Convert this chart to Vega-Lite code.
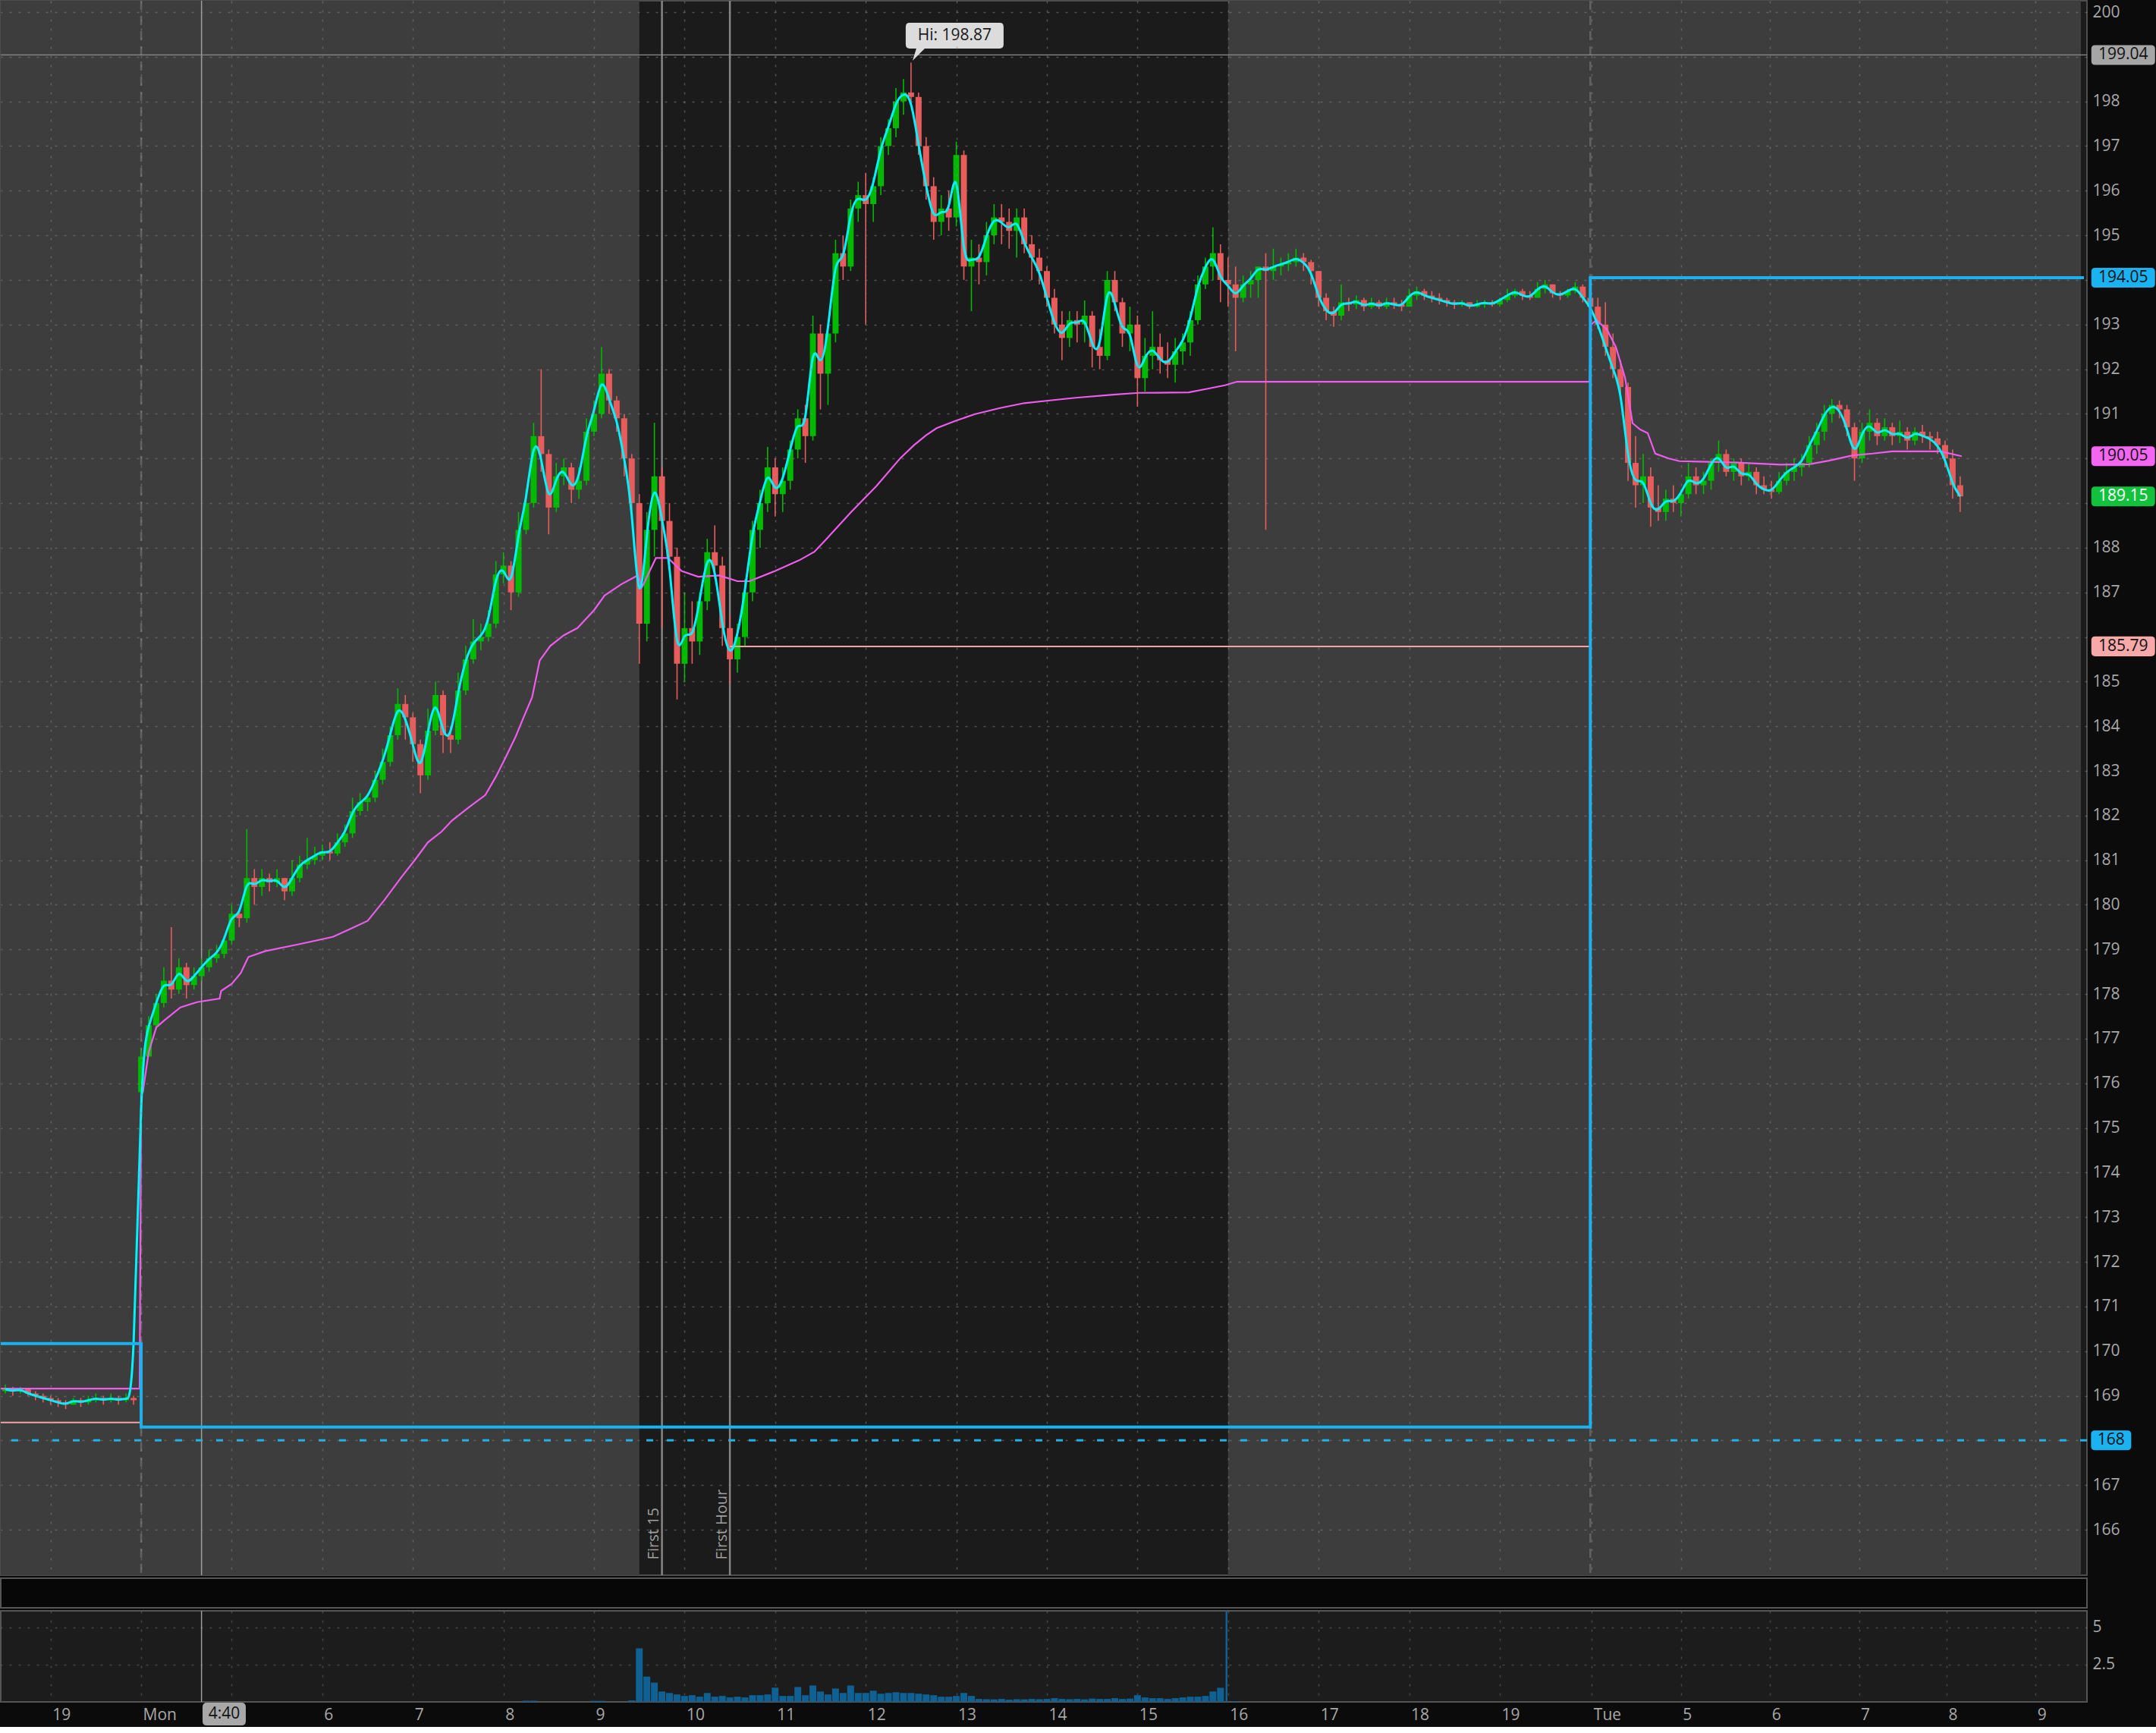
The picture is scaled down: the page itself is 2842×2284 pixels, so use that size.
{
"$schema":"https://vega.github.io/schema/vega-lite/v6.json",
"background":"#0b0b0b",
"padding":0,
"spacing":4,
"bounds":"flush",
"config":{"axis":{"labelFont":"Open Sans"},"text":{"font":"Open Sans"},"scale":{"continuousPadding":0}},
"datasets":{
"candles":[
{"m":-90,"o":169.1,"h":169.25,"l":169.05,"c":169.15},{"m":-85,"o":169.15,"h":169.2,"l":169.0,"c":169.1},{"m":-80,"o":169.1,"h":169.2,"l":169.05,"c":169.15},{"m":-75,"o":169.15,"h":169.15,"l":169.0,"c":169.05},{"m":-70,"o":169.05,"h":169.1,"l":168.9,"c":169.0},{"m":-65,"o":169.0,"h":169.05,"l":168.85,"c":168.95},{"m":-60,"o":168.95,"h":169.0,"l":168.8,"c":168.9},{"m":-55,"o":168.9,"h":168.95,"l":168.75,"c":168.85},{"m":-50,"o":168.85,"h":168.9,"l":168.7,"c":168.8},{"m":-45,"o":168.8,"h":168.95,"l":168.8,"c":168.9},{"m":-40,"o":168.9,"h":168.95,"l":168.75,"c":168.85},{"m":-35,"o":168.85,"h":169.0,"l":168.8,"c":168.9},{"m":-30,"o":168.9,"h":169.05,"l":168.85,"c":168.95},{"m":-25,"o":168.95,"h":169.0,"l":168.8,"c":168.9},{"m":-20,"o":168.9,"h":169.05,"l":168.85,"c":168.95},{"m":-15,"o":168.95,"h":169.0,"l":168.8,"c":168.9},{"m":-10,"o":168.9,"h":169.05,"l":168.85,"c":168.95},{"m":-5,"o":168.95,"h":169.0,"l":168.8,"c":168.9},
{"m":0,"o":175.8,"h":176.8,"l":175.7,"c":176.6},{"m":5,"o":176.6,"h":177.5,"l":176.6,"c":177.3},{"m":10,"o":177.3,"h":178.0,"l":177.2,"c":177.8},{"m":15,"o":177.8,"h":178.6,"l":177.7,"c":178.3},{"m":20,"o":178.3,"h":179.5,"l":177.9,"c":178.1},{"m":25,"o":178.1,"h":178.8,"l":178.0,"c":178.6},{"m":30,"o":178.6,"h":178.7,"l":177.9,"c":178.2},{"m":35,"o":178.2,"h":178.6,"l":178.1,"c":178.4},{"m":40,"o":178.4,"h":178.8,"l":178.3,"c":178.6},{"m":45,"o":178.6,"h":179.0,"l":178.5,"c":178.8},{"m":50,"o":178.8,"h":179.1,"l":178.7,"c":178.9},{"m":55,"o":178.9,"h":179.3,"l":178.8,"c":179.2},{"m":60,"o":179.2,"h":180.0,"l":179.1,"c":179.8},{"m":65,"o":179.8,"h":179.9,"l":179.5,"c":179.7},{"m":70,"o":179.7,"h":181.7,"l":179.6,"c":180.6},{"m":75,"o":180.6,"h":180.8,"l":180.0,"c":180.4},{"m":80,"o":180.4,"h":180.8,"l":180.2,"c":180.6},{"m":85,"o":180.6,"h":180.7,"l":180.3,"c":180.5},{"m":90,"o":180.5,"h":180.8,"l":180.4,"c":180.6},{"m":95,"o":180.6,"h":180.6,"l":180.1,"c":180.3},{"m":100,"o":180.3,"h":181.0,"l":180.2,"c":180.6},{"m":105,"o":180.6,"h":181.1,"l":180.5,"c":180.9},{"m":110,"o":180.9,"h":181.5,"l":180.8,"c":181.0},{"m":115,"o":181.0,"h":181.3,"l":180.9,"c":181.1},{"m":120,"o":181.1,"h":181.35,"l":181.0,"c":181.2},{"m":125,"o":181.2,"h":181.4,"l":181.0,"c":181.15},{"m":130,"o":181.15,"h":181.6,"l":181.1,"c":181.4},{"m":135,"o":181.4,"h":181.8,"l":181.3,"c":181.6},{"m":140,"o":181.6,"h":182.4,"l":181.5,"c":182.1},{"m":145,"o":182.1,"h":182.5,"l":182.0,"c":182.3},{"m":150,"o":182.3,"h":182.5,"l":182.1,"c":182.4},{"m":155,"o":182.4,"h":183.0,"l":182.3,"c":182.8},{"m":160,"o":182.8,"h":183.5,"l":182.7,"c":183.2},{"m":165,"o":183.2,"h":184.0,"l":183.1,"c":183.8},{"m":170,"o":183.8,"h":184.85,"l":183.7,"c":184.5},{"m":175,"o":184.5,"h":184.7,"l":183.7,"c":184.2},{"m":180,"o":184.2,"h":184.3,"l":183.2,"c":183.6},{"m":185,"o":183.6,"h":183.7,"l":182.5,"c":182.9},{"m":190,"o":182.9,"h":184.4,"l":182.8,"c":183.9},{"m":195,"o":183.9,"h":185.0,"l":183.8,"c":184.7},{"m":200,"o":184.7,"h":184.8,"l":183.4,"c":183.8},{"m":205,"o":183.8,"h":184.0,"l":183.4,"c":183.7},{"m":210,"o":183.7,"h":185.2,"l":183.6,"c":184.8},{"m":215,"o":184.8,"h":185.8,"l":184.7,"c":185.5},{"m":220,"o":185.5,"h":186.4,"l":185.4,"c":185.9},{"m":225,"o":185.9,"h":186.3,"l":185.7,"c":186.0},{"m":230,"o":186.0,"h":186.6,"l":185.9,"c":186.3},{"m":235,"o":186.3,"h":187.7,"l":186.2,"c":187.4},{"m":240,"o":187.4,"h":187.9,"l":187.2,"c":187.6},{"m":245,"o":187.6,"h":187.7,"l":186.6,"c":187.0},{"m":250,"o":187.0,"h":188.8,"l":186.9,"c":188.4},{"m":255,"o":188.4,"h":189.3,"l":188.3,"c":189.0},{"m":260,"o":189.0,"h":190.8,"l":188.9,"c":190.5},{"m":265,"o":190.5,"h":192.0,"l":189.7,"c":190.1},{"m":270,"o":190.1,"h":190.2,"l":188.3,"c":188.9},{"m":275,"o":188.9,"h":189.9,"l":188.8,"c":189.6},{"m":280,"o":189.6,"h":190.0,"l":189.4,"c":189.8},{"m":285,"o":189.8,"h":189.9,"l":189.0,"c":189.3},{"m":290,"o":189.3,"h":189.8,"l":189.1,"c":189.5},{"m":295,"o":189.5,"h":190.9,"l":189.4,"c":190.6},{"m":300,"o":190.6,"h":191.3,"l":190.5,"c":191.0},{"m":305,"o":191.0,"h":192.5,"l":190.9,"c":191.9},{"m":310,"o":191.9,"h":192.0,"l":191.0,"c":191.3},{"m":315,"o":191.3,"h":191.4,"l":190.6,"c":190.9},{"m":320,"o":190.9,"h":191.0,"l":189.6,"c":190.0},{"m":325,"o":190.0,"h":190.1,"l":188.6,"c":189.0},
{"m":330,"o":189.0,"h":189.2,"l":185.4,"c":186.3},{"m":335,"o":186.3,"h":188.8,"l":185.9,"c":188.4},{"m":340,"o":188.4,"h":190.8,"l":187.8,"c":189.6},{"m":345,"o":189.6,"h":189.8,"l":186.2,"c":188.6},{"m":350,"o":188.6,"h":189.0,"l":187.5,"c":187.8},{"m":355,"o":187.8,"h":188.0,"l":184.6,"c":185.4},{"m":360,"o":185.4,"h":187.0,"l":185.0,"c":186.2},{"m":365,"o":186.2,"h":186.8,"l":185.4,"c":185.9},{"m":370,"o":185.9,"h":187.0,"l":185.6,"c":186.8},{"m":375,"o":186.8,"h":188.2,"l":186.6,"c":187.9},{"m":380,"o":187.9,"h":188.5,"l":187.3,"c":187.6},{"m":385,"o":187.6,"h":187.8,"l":185.8,"c":186.2},{"m":390,"o":186.2,"h":186.5,"l":184.93,"c":185.5},{"m":395,"o":185.5,"h":186.3,"l":185.2,"c":186.0},{"m":400,"o":186.0,"h":187.3,"l":185.8,"c":187.0},{"m":405,"o":187.0,"h":188.6,"l":186.8,"c":188.4},{"m":410,"o":188.4,"h":189.3,"l":188.0,"c":189.0},{"m":415,"o":189.0,"h":190.26,"l":188.8,"c":189.8},{"m":420,"o":189.8,"h":190.0,"l":188.7,"c":189.2},{"m":425,"o":189.2,"h":189.8,"l":188.8,"c":189.5},{"m":430,"o":189.5,"h":190.4,"l":189.3,"c":190.2},{"m":435,"o":190.2,"h":191.1,"l":190.0,"c":190.9},{"m":440,"o":190.9,"h":191.2,"l":189.9,"c":190.5},{"m":445,"o":190.5,"h":193.2,"l":190.4,"c":192.8},{"m":450,"o":192.8,"h":193.0,"l":191.1,"c":191.9},{"m":455,"o":191.9,"h":193.0,"l":191.2,"c":192.8},{"m":460,"o":192.8,"h":194.9,"l":192.6,"c":194.6},{"m":465,"o":194.6,"h":195.0,"l":194.0,"c":194.3},{"m":470,"o":194.3,"h":195.8,"l":194.2,"c":195.6},{"m":475,"o":195.6,"h":196.2,"l":195.3,"c":195.9},{"m":480,"o":195.9,"h":196.4,"l":193.0,"c":195.7},{"m":485,"o":195.7,"h":196.3,"l":195.3,"c":196.1},{"m":490,"o":196.1,"h":197.2,"l":195.9,"c":197.0},{"m":495,"o":197.0,"h":197.6,"l":196.8,"c":197.4},{"m":500,"o":197.4,"h":198.3,"l":197.2,"c":198.0},{"m":505,"o":198.0,"h":198.5,"l":197.7,"c":198.2},{"m":510,"o":198.2,"h":198.87,"l":197.9,"c":198.1},{"m":515,"o":198.1,"h":198.2,"l":196.8,"c":197.0},{"m":520,"o":197.0,"h":197.2,"l":195.8,"c":196.1},{"m":525,"o":196.1,"h":196.3,"l":194.9,"c":195.3},{"m":530,"o":195.3,"h":195.9,"l":195.0,"c":195.6},{"m":535,"o":195.6,"h":196.0,"l":195.1,"c":195.4},{"m":540,"o":195.4,"h":197.1,"l":195.2,"c":196.8},{"m":545,"o":196.8,"h":196.9,"l":194.0,"c":194.3},{"m":550,"o":194.3,"h":194.9,"l":193.3,"c":194.5},{"m":555,"o":194.5,"h":194.8,"l":193.9,"c":194.4},{"m":560,"o":194.4,"h":195.3,"l":194.1,"c":195.0},{"m":565,"o":195.0,"h":195.7,"l":194.8,"c":195.4},{"m":570,"o":195.4,"h":195.7,"l":194.8,"c":195.3},{"m":575,"o":195.3,"h":195.6,"l":194.7,"c":195.1},{"m":580,"o":195.1,"h":195.6,"l":194.5,"c":195.4},{"m":585,"o":195.4,"h":195.6,"l":194.6,"c":194.8},{"m":590,"o":194.8,"h":195.0,"l":194.0,"c":194.5},{"m":595,"o":194.5,"h":194.7,"l":193.9,"c":194.2},{"m":600,"o":194.2,"h":194.3,"l":193.4,"c":193.6},{"m":605,"o":193.6,"h":193.8,"l":192.8,"c":193.0},{"m":610,"o":193.0,"h":193.3,"l":192.2,"c":192.7},{"m":615,"o":192.7,"h":193.3,"l":192.5,"c":193.1},{"m":620,"o":193.1,"h":193.3,"l":192.6,"c":193.0},{"m":625,"o":193.0,"h":193.54,"l":192.6,"c":193.2},{"m":630,"o":193.2,"h":193.3,"l":192.04,"c":192.5},{"m":635,"o":192.5,"h":192.9,"l":192.0,"c":192.3},{"m":640,"o":192.3,"h":194.2,"l":192.2,"c":194.0},{"m":645,"o":194.0,"h":194.2,"l":193.3,"c":193.5},{"m":650,"o":193.5,"h":193.6,"l":192.5,"c":192.8},{"m":655,"o":192.8,"h":193.4,"l":192.4,"c":193.0},{"m":660,"o":193.0,"h":193.2,"l":191.16,"c":191.8},{"m":665,"o":191.8,"h":192.7,"l":191.5,"c":192.3},{"m":670,"o":192.3,"h":193.3,"l":192.0,"c":192.5},{"m":675,"o":192.5,"h":192.8,"l":191.9,"c":192.2},{"m":680,"o":192.2,"h":192.6,"l":191.8,"c":192.1},{"m":685,"o":192.1,"h":192.7,"l":191.7,"c":192.4},{"m":690,"o":192.4,"h":192.8,"l":192.1,"c":192.6},{"m":695,"o":192.6,"h":193.3,"l":192.3,"c":193.1},{"m":700,"o":193.1,"h":194.1,"l":193.0,"c":193.9},{"m":705,"o":193.9,"h":194.5,"l":193.8,"c":194.3},{"m":710,"o":194.3,"h":195.18,"l":194.0,"c":194.6},{"m":715,"o":194.6,"h":194.8,"l":193.5,"c":194.0},
{"m":720,"o":194.0,"h":194.5,"l":193.4,"c":193.9},{"m":725,"o":193.9,"h":194.3,"l":192.4,"c":193.6},{"m":730,"o":193.6,"h":194.1,"l":193.5,"c":193.9},{"m":735,"o":193.9,"h":194.2,"l":193.6,"c":194.0},{"m":740,"o":194.0,"h":194.3,"l":193.6,"c":194.3},{"m":745,"o":194.3,"h":194.6,"l":188.4,"c":194.2},{"m":750,"o":194.2,"h":194.7,"l":194.0,"c":194.3},{"m":755,"o":194.3,"h":194.5,"l":194.1,"c":194.35},{"m":760,"o":194.35,"h":194.6,"l":194.2,"c":194.4},{"m":765,"o":194.4,"h":194.7,"l":194.3,"c":194.5},{"m":770,"o":194.5,"h":194.6,"l":194.2,"c":194.4},{"m":775,"o":194.4,"h":194.45,"l":193.9,"c":194.2},{"m":780,"o":194.2,"h":194.2,"l":193.4,"c":193.6},{"m":785,"o":193.6,"h":193.7,"l":193.1,"c":193.3},{"m":790,"o":193.3,"h":193.4,"l":192.95,"c":193.2},{"m":795,"o":193.2,"h":193.9,"l":193.1,"c":193.5},{"m":800,"o":193.5,"h":193.6,"l":193.3,"c":193.45},{"m":805,"o":193.45,"h":193.65,"l":193.35,"c":193.55},{"m":810,"o":193.55,"h":193.6,"l":193.3,"c":193.4},{"m":815,"o":193.4,"h":193.6,"l":193.35,"c":193.5},{"m":820,"o":193.5,"h":193.55,"l":193.35,"c":193.4},{"m":825,"o":193.4,"h":193.6,"l":193.35,"c":193.5},{"m":830,"o":193.5,"h":193.6,"l":193.35,"c":193.45},{"m":835,"o":193.45,"h":193.55,"l":193.3,"c":193.4},{"m":840,"o":193.4,"h":193.8,"l":193.4,"c":193.65},{"m":845,"o":193.65,"h":193.85,"l":193.55,"c":193.75},{"m":850,"o":193.75,"h":193.8,"l":193.55,"c":193.65},{"m":855,"o":193.65,"h":193.75,"l":193.5,"c":193.6},{"m":860,"o":193.6,"h":193.7,"l":193.45,"c":193.55},{"m":865,"o":193.55,"h":193.6,"l":193.4,"c":193.5},{"m":870,"o":193.5,"h":193.55,"l":193.35,"c":193.45},{"m":875,"o":193.45,"h":193.55,"l":193.4,"c":193.5},{"m":880,"o":193.5,"h":193.5,"l":193.35,"c":193.4},{"m":885,"o":193.4,"h":193.55,"l":193.38,"c":193.45},{"m":890,"o":193.45,"h":193.55,"l":193.38,"c":193.5},{"m":895,"o":193.5,"h":193.55,"l":193.4,"c":193.45},{"m":900,"o":193.45,"h":193.6,"l":193.4,"c":193.55},{"m":905,"o":193.55,"h":193.8,"l":193.5,"c":193.65},{"m":910,"o":193.65,"h":193.8,"l":193.6,"c":193.75},{"m":915,"o":193.75,"h":193.8,"l":193.55,"c":193.65},{"m":920,"o":193.65,"h":193.75,"l":193.55,"c":193.6},{"m":925,"o":193.6,"h":193.95,"l":193.6,"c":193.8},{"m":930,"o":193.8,"h":194.0,"l":193.7,"c":193.9},{"m":935,"o":193.9,"h":193.9,"l":193.6,"c":193.7},{"m":940,"o":193.7,"h":193.75,"l":193.55,"c":193.65},{"m":945,"o":193.65,"h":193.8,"l":193.6,"c":193.75},{"m":950,"o":193.75,"h":193.95,"l":193.7,"c":193.85},{"m":955,"o":193.85,"h":193.9,"l":193.5,"c":193.6},
{"m":960,"o":193.6,"h":194.0,"l":193.3,"c":193.4},{"m":965,"o":193.4,"h":193.6,"l":192.9,"c":193.0},{"m":970,"o":193.0,"h":193.5,"l":192.3,"c":192.5},{"m":975,"o":192.5,"h":192.8,"l":191.8,"c":192.0},{"m":980,"o":192.0,"h":192.2,"l":191.4,"c":191.6},{"m":985,"o":191.6,"h":191.7,"l":189.5,"c":189.9},{"m":990,"o":189.9,"h":190.5,"l":188.9,"c":189.4},{"m":995,"o":189.4,"h":190.1,"l":189.0,"c":189.6},{"m":1000,"o":189.6,"h":189.8,"l":188.47,"c":188.9},{"m":1005,"o":188.9,"h":189.4,"l":188.6,"c":188.8},{"m":1010,"o":188.8,"h":189.3,"l":188.6,"c":189.1},{"m":1015,"o":189.1,"h":189.4,"l":188.8,"c":189.0},{"m":1020,"o":189.0,"h":189.3,"l":188.7,"c":189.2},{"m":1025,"o":189.2,"h":189.9,"l":189.1,"c":189.6},{"m":1030,"o":189.6,"h":189.8,"l":189.2,"c":189.4},{"m":1035,"o":189.4,"h":189.7,"l":189.2,"c":189.5},{"m":1040,"o":189.5,"h":190.0,"l":189.3,"c":189.9},{"m":1045,"o":189.9,"h":190.4,"l":189.7,"c":190.1},{"m":1050,"o":190.1,"h":190.2,"l":189.6,"c":189.7},{"m":1055,"o":189.7,"h":190.0,"l":189.5,"c":189.9},{"m":1060,"o":189.9,"h":190.0,"l":189.4,"c":189.6},{"m":1065,"o":189.6,"h":189.9,"l":189.5,"c":189.7},{"m":1070,"o":189.7,"h":189.8,"l":189.2,"c":189.4},{"m":1075,"o":189.4,"h":189.6,"l":189.2,"c":189.3},{"m":1080,"o":189.3,"h":189.5,"l":189.1,"c":189.25},{"m":1085,"o":189.25,"h":189.7,"l":189.2,"c":189.5},{"m":1090,"o":189.5,"h":189.9,"l":189.4,"c":189.7},{"m":1095,"o":189.7,"h":190.0,"l":189.5,"c":189.8},{"m":1100,"o":189.8,"h":190.1,"l":189.6,"c":189.9},{"m":1105,"o":189.9,"h":190.5,"l":189.8,"c":190.3},{"m":1110,"o":190.3,"h":190.8,"l":190.1,"c":190.6},{"m":1115,"o":190.6,"h":191.2,"l":190.4,"c":191.0},{"m":1120,"o":191.0,"h":191.33,"l":190.8,"c":191.2},{"m":1125,"o":191.2,"h":191.3,"l":190.9,"c":191.1},{"m":1130,"o":191.1,"h":191.2,"l":190.5,"c":190.7},{"m":1135,"o":190.7,"h":190.8,"l":189.5,"c":190.0},{"m":1140,"o":190.0,"h":190.8,"l":189.9,"c":190.6},{"m":1145,"o":190.6,"h":191.1,"l":190.4,"c":190.8},{"m":1150,"o":190.8,"h":190.9,"l":190.3,"c":190.5},{"m":1155,"o":190.5,"h":190.9,"l":190.4,"c":190.7},{"m":1160,"o":190.7,"h":190.8,"l":190.3,"c":190.5},{"m":1165,"o":190.5,"h":190.85,"l":190.35,"c":190.6},{"m":1170,"o":190.6,"h":190.7,"l":190.2,"c":190.4},{"m":1175,"o":190.4,"h":190.7,"l":190.3,"c":190.6},{"m":1180,"o":190.6,"h":190.75,"l":190.35,"c":190.5},{"m":1185,"o":190.5,"h":190.6,"l":190.2,"c":190.45},{"m":1190,"o":190.45,"h":190.6,"l":190.1,"c":190.3},{"m":1195,"o":190.3,"h":190.4,"l":189.8,"c":190.0},{"m":1200,"o":190.0,"h":190.2,"l":189.1,"c":189.4},{"m":1205,"o":189.4,"h":189.6,"l":188.8,"c":189.15}
],
"vwap":[
{"m":-93,"p":169.16},{"m":-1,"p":169.16},{"m":0,"p":175.7},{"m":1.4,"p":175.87},{"m":5,"p":176.7},{"m":10,"p":177.25},{"m":15,"p":177.4},{"m":26,"p":177.7},{"m":37,"p":177.82},{"m":52,"p":177.9},{"m":53,"p":178.07},{"m":60,"p":178.23},{"m":66,"p":178.47},{"m":71,"p":178.83},{"m":82,"p":178.96},{"m":105,"p":179.12},{"m":127,"p":179.28},{"m":138,"p":179.45},{"m":150,"p":179.64},{"m":161,"p":180.1},{"m":172,"p":180.6},{"m":181,"p":180.99},{"m":190,"p":181.4},{"m":199,"p":181.64},{"m":206,"p":181.89},{"m":217,"p":182.18},{"m":228,"p":182.46},{"m":235,"p":182.87},{"m":241,"p":183.27},{"m":248,"p":183.76},{"m":253,"p":184.17},{"m":259,"p":184.65},{"m":264,"p":185.47},{"m":271,"p":185.8},{"m":280,"p":186.04},{"m":289,"p":186.2},{"m":300,"p":186.6},{"m":307,"p":186.93},{"m":318,"p":187.18},{"m":329,"p":187.38},{"m":332,"p":187.13},{"m":341,"p":187.77},{"m":349,"p":187.77},{"m":358,"p":187.48},{"m":369,"p":187.35},{"m":383,"p":187.38},{"m":395,"p":187.25},{"m":403,"p":187.25},{"m":420,"p":187.48},{"m":436,"p":187.72},{"m":446,"p":187.91},{"m":453,"p":188.16},{"m":470,"p":188.79},{"m":487,"p":189.38},{"m":503,"p":190.01},{"m":512,"p":190.3},{"m":520,"p":190.52},{"m":527,"p":190.68},{"m":540,"p":190.85},{"m":552,"p":190.99},{"m":569,"p":191.13},{"m":585,"p":191.24},{"m":602,"p":191.3},{"m":619,"p":191.36},{"m":644,"p":191.43},{"m":661,"p":191.47},{"m":694,"p":191.48},{"m":706,"p":191.56},{"m":718,"p":191.64},{"m":726,"p":191.72},{"m":959.5,"p":191.72},{"m":960.5,"p":193.0},{"m":964,"p":193.1},{"m":971,"p":192.89},{"m":977,"p":192.49},{"m":983,"p":191.81},{"m":988,"p":190.79},{"m":993,"p":190.65},{"m":998,"p":190.57},{"m":1003,"p":190.11},{"m":1012,"p":190.0},{"m":1019,"p":189.94},{"m":1032,"p":189.93},{"m":1057,"p":189.91},{"m":1086,"p":189.86},{"m":1105,"p":189.87},{"m":1118,"p":189.95},{"m":1134,"p":190.07},{"m":1147,"p":190.11},{"m":1160,"p":190.16},{"m":1192,"p":190.16},{"m":1206,"p":190.05}
],
"vol":[
{"m":255,"v":0.08},{"m":260,"v":0.08},{"m":300,"v":0.07},{"m":305,"v":0.07},{"m":325,"v":0.1},
{"m":330,"v":3.6},{"m":335,"v":1.7},{"m":340,"v":1.3},{"m":345,"v":0.7},{"m":350,"v":0.6},{"m":355,"v":0.5},{"m":360,"v":0.4},{"m":365,"v":0.45},{"m":370,"v":0.35},{"m":375,"v":0.6},{"m":380,"v":0.35},{"m":385,"v":0.4},{"m":390,"v":0.3},{"m":395,"v":0.35},{"m":400,"v":0.3},{"m":405,"v":0.45},{"m":410,"v":0.45},{"m":415,"v":0.5},{"m":420,"v":0.95},{"m":425,"v":0.4},{"m":430,"v":0.4},{"m":435,"v":1.0},{"m":440,"v":0.45},{"m":445,"v":1.1},{"m":450,"v":0.7},{"m":455,"v":0.5},{"m":460,"v":0.9},{"m":465,"v":0.6},{"m":470,"v":1.1},{"m":475,"v":0.6},{"m":480,"v":0.6},{"m":485,"v":0.75},{"m":490,"v":0.55},{"m":495,"v":0.6},{"m":500,"v":0.65},{"m":505,"v":0.6},{"m":510,"v":0.6},{"m":515,"v":0.55},{"m":520,"v":0.5},{"m":525,"v":0.45},{"m":530,"v":0.35},{"m":535,"v":0.35},{"m":540,"v":0.4},{"m":545,"v":0.6},{"m":550,"v":0.4},{"m":555,"v":0.2},{"m":560,"v":0.18},{"m":565,"v":0.17},{"m":570,"v":0.2},{"m":575,"v":0.15},{"m":580,"v":0.18},{"m":585,"v":0.17},{"m":590,"v":0.2},{"m":595,"v":0.18},{"m":600,"v":0.2},{"m":605,"v":0.25},{"m":610,"v":0.2},{"m":615,"v":0.18},{"m":620,"v":0.2},{"m":625,"v":0.17},{"m":630,"v":0.22},{"m":635,"v":0.2},{"m":640,"v":0.2},{"m":645,"v":0.25},{"m":650,"v":0.2},{"m":655,"v":0.22},{"m":660,"v":0.45},{"m":665,"v":0.3},{"m":670,"v":0.25},{"m":675,"v":0.25},{"m":680,"v":0.2},{"m":685,"v":0.25},{"m":690,"v":0.3},{"m":695,"v":0.35},{"m":700,"v":0.35},{"m":705,"v":0.4},{"m":710,"v":0.7},{"m":715,"v":0.95},{"m":725,"v":0.05}
],
"badges":[
{"p":199.04,"t":"199.04","k":"cross"},{"p":194.05,"t":"194.05","k":"blue"},{"p":190.05,"t":"190.05","k":"vwap"},{"p":189.15,"t":"189.15","k":"last"},{"p":185.79,"t":"185.79","k":"fhl"},{"p":168,"t":"168","k":"blue"}
]
},
"vconcat":[
{
"width":2750,"height":2075,
"view":{"fill":"#1b1b1b","stroke":"#4d4d4d","strokeWidth":2},
"layer":[
{"data":{"values":[{"m":-93,"m2":330},{"m":720,"m2":1285}]},
 "mark":{"type":"rect","color":"#3d3d3d","clip":true},
 "encoding":{"x":{"field":"m","type":"quantitative","scale":{"domain":[-93,1289],"nice":false,"zero":false,"padding":0},
   "axis":{"values":[-60,0,60,120,180,240,300,360,420,480,540,600,660,720,780,840,900,961,1020,1079,1138,1196,1255],"grid":true,"gridColor":"#8a8a8a","gridOpacity":0.5,"gridDash":[3,9],"gridWidth":1.5,"labels":false,"ticks":false,"domain":false,"title":null,"zindex":1}},
  "x2":{"field":"m2"}}},
{"data":{"values":[{"m":0},{"m":960}]},
 "mark":{"type":"rule","color":"#626262","strokeWidth":2.5,"strokeDash":[12,8],"clip":true},
 "encoding":{"x":{"field":"m","type":"quantitative","scale":{"domain":[-93,1289],"nice":false,"zero":false,"padding":0}}}},
{"data":{"values":[{"m":40}]},
 "mark":{"type":"rule","color":"#9c9c9c","strokeWidth":1.5,"clip":true},
 "encoding":{"x":{"field":"m","type":"quantitative","scale":{"domain":[-93,1289],"nice":false,"zero":false,"padding":0}}}},
{"data":{"values":[{"m":345},{"m":390}]},
 "mark":{"type":"rule","color":"#858585","strokeWidth":2.5,"clip":true},
 "encoding":{"x":{"field":"m","type":"quantitative","scale":{"domain":[-93,1289],"nice":false,"zero":false,"padding":0}}}},
{"data":{"values":[{"p":199.04}]},
 "mark":{"type":"rule","color":"#8c8c8c","strokeWidth":1.2,"clip":true},
 "encoding":{"y":{"field":"p","type":"quantitative","scale":{"domain":[164.98,200.255],"nice":false,"zero":false,"padding":0},
   "axis":{"orient":"right","values":[166,167,168,169,170,171,172,173,174,175,176,177,178,179,180,181,182,183,184,185,186,187,188,189,190,191,192,193,194,195,196,197,198,199,200],"format":"d","grid":true,"gridColor":"#8a8a8a","gridOpacity":0.5,"gridDash":[3,9],"gridWidth":1.5,"ticks":false,"domain":false,"labelColor":"#a8a8a8","labelFontSize":21,"labelAlign":"left","labelBaseline":"middle","labelPadding":7,"labelOverlap":false,"labelBound":false,"labelFlush":false,"labelExpr":"indexof([168,186,189,190,194,199], datum.value) >= 0 ? '' : format(datum.value, 'd')","title":null,"zindex":1}}}},
{"data":{"values":[{"p":168}]},
 "mark":{"type":"rule","color":"#1ab2f0","strokeWidth":3,"strokeDash":[9,18],"clip":true},
 "encoding":{"y":{"field":"p","type":"quantitative","scale":{"domain":[164.98,200.255],"nice":false,"zero":false,"padding":0}}}},
{"data":{"name":"candles"},
 "mark":{"type":"rule","strokeWidth":1.6,"clip":true},
 "encoding":{"x":{"field":"m","type":"quantitative","scale":{"domain":[-93,1289],"nice":false,"zero":false,"padding":0}},
  "y":{"field":"l","type":"quantitative","scale":{"domain":[164.98,200.255],"nice":false,"zero":false,"padding":0}},
  "y2":{"field":"h"},
  "color":{"condition":{"test":"datum.c >= datum.o","value":"#00ba00"},"value":"#e85c5c"}}},
{"data":{"name":"candles"},
 "mark":{"type":"bar","size":8,"clip":true},
 "encoding":{"x":{"field":"m","type":"quantitative","scale":{"domain":[-93,1289],"nice":false,"zero":false,"padding":0}},
  "y":{"field":"o","type":"quantitative","scale":{"domain":[164.98,200.255],"nice":false,"zero":false,"padding":0}},
  "y2":{"field":"c"},
  "color":{"condition":{"test":"datum.c >= datum.o","value":"#00ba00"},"value":"#e85c5c"}}},
{"data":{"name":"vwap"},
 "mark":{"type":"line","color":"#ee5cee","strokeWidth":2.2,"clip":true},
 "encoding":{"x":{"field":"m","type":"quantitative","scale":{"domain":[-93,1289],"nice":false,"zero":false,"padding":0}},
  "y":{"field":"p","type":"quantitative","scale":{"domain":[164.98,200.255],"nice":false,"zero":false,"padding":0}}}},
{"data":{"values":[{"m":-93,"p":168.4,"g":"fri"},{"m":0,"p":168.4,"g":"fri"},{"m":390,"p":185.79,"g":"fhl"},{"m":960,"p":185.79,"g":"fhl"}]},
 "mark":{"type":"line","color":"#f2a3a3","strokeWidth":2,"clip":true},
 "encoding":{"x":{"field":"m","type":"quantitative","scale":{"domain":[-93,1289],"nice":false,"zero":false,"padding":0}},
  "y":{"field":"p","type":"quantitative","scale":{"domain":[164.98,200.255],"nice":false,"zero":false,"padding":0}},
  "detail":{"field":"g"}}},
{"data":{"name":"candles"},
 "mark":{"type":"line","color":"#00f2ff","strokeWidth":3,"interpolate":"basis","clip":true},
 "encoding":{"x":{"field":"m","type":"quantitative","scale":{"domain":[-93,1289],"nice":false,"zero":false,"padding":0}},
  "y":{"field":"c","type":"quantitative","scale":{"domain":[164.98,200.255],"nice":false,"zero":false,"padding":0}}}},
{"data":{"values":[{"m":-93,"p":170.17},{"m":0,"p":168.3},{"m":960,"p":194.05},{"m":1287,"p":194.05}]},
 "mark":{"type":"line","color":"#1ab2f0","strokeWidth":4,"interpolate":"step-after","clip":true},
 "encoding":{"x":{"field":"m","type":"quantitative","scale":{"domain":[-93,1289],"nice":false,"zero":false,"padding":0}},
  "y":{"field":"p","type":"quantitative","scale":{"domain":[164.98,200.255],"nice":false,"zero":false,"padding":0}}}},
{"data":{"values":[{"m":342.7,"p":165.33,"t":"First 15"},{"m":388,"p":165.33,"t":"First Hour"}]},
 "mark":{"type":"text","angle":270,"align":"left","baseline":"alphabetic","fontSize":20,"color":"#a0a0a0"},
 "encoding":{"x":{"field":"m","type":"quantitative","scale":{"domain":[-93,1289],"nice":false,"zero":false,"padding":0}},
  "y":{"field":"p","type":"quantitative","scale":{"domain":[164.98,200.255],"nice":false,"zero":false,"padding":0}},
  "text":{"field":"t"}}},
{"data":{"values":[{"m":538.9,"p":199.473,"t":"Hi: 198.87"}]},
 "mark":{"type":"point","filled":true,"opacity":1,"color":"#dcdcdc","size":16641,"shape":"M-0.92,-0.264 L0.92,-0.264 Q1,-0.264 1,-0.18 L1,0.18 Q1,0.264 0.92,0.264 L-0.612,0.264 L-0.86,0.512 L-0.783,0.264 L-0.92,0.264 Q-1,0.264 -1,0.18 L-1,-0.18 Q-1,-0.264 -0.92,-0.264 Z"},
 "encoding":{"x":{"field":"m","type":"quantitative","scale":{"domain":[-93,1289],"nice":false,"zero":false,"padding":0}},
  "y":{"field":"p","type":"quantitative","scale":{"domain":[164.98,200.255],"nice":false,"zero":false,"padding":0}}}},
{"data":{"values":[{"m":538.9,"p":199.473,"t":"Hi: 198.87"}]},
 "mark":{"type":"text","fontSize":21,"color":"#1a1a1a","align":"center","baseline":"middle"},
 "encoding":{"x":{"field":"m","type":"quantitative","scale":{"domain":[-93,1289],"nice":false,"zero":false,"padding":0}},
  "y":{"field":"p","type":"quantitative","scale":{"domain":[164.98,200.255],"nice":false,"zero":false,"padding":0}},
  "text":{"field":"t"}}},
{"data":{"name":"badges"},
 "transform":[{"filter":"datum.t != '168'"}],
 "mark":{"type":"point","filled":true,"opacity":1,"size":7056,"shape":"M-0.88,-0.31 L0.88,-0.31 Q1,-0.31 1,-0.19 L1,0.19 Q1,0.31 0.88,0.31 L-0.88,0.31 Q-1,0.31 -1,0.19 L-1,-0.19 Q-1,-0.31 -0.88,-0.31 Z"},
 "encoding":{"x":{"datum":1313,"type":"quantitative","scale":{"domain":[-93,1289],"nice":false,"zero":false,"padding":0}},
  "y":{"field":"p","type":"quantitative","scale":{"domain":[164.98,200.255],"nice":false,"zero":false,"padding":0}},
  "color":{"field":"k","type":"nominal","scale":{"domain":["cross","blue","vwap","last","fhl"],"range":["#a6a6a6","#1ab2f0","#f266f2","#12c23c","#f7a8a8"]},"legend":null}}},
{"data":{"name":"badges"},
 "transform":[{"filter":"datum.t == '168'"}],
 "mark":{"type":"point","filled":true,"opacity":1,"size":2809,"shape":"M-0.8,-0.49 L0.8,-0.49 Q1,-0.49 1,-0.3 L1,0.3 Q1,0.49 0.8,0.49 L-0.8,0.49 Q-1,0.49 -1,0.3 L-1,-0.3 Q-1,-0.49 -0.8,-0.49 Z"},
 "encoding":{"x":{"datum":1305,"type":"quantitative","scale":{"domain":[-93,1289],"nice":false,"zero":false,"padding":0}},
  "y":{"field":"p","type":"quantitative","scale":{"domain":[164.98,200.255],"nice":false,"zero":false,"padding":0}},
  "color":{"field":"k","type":"nominal","scale":{"domain":["cross","blue","vwap","last","fhl"],"range":["#a6a6a6","#1ab2f0","#f266f2","#12c23c","#f7a8a8"]},"legend":null}}},
{"data":{"name":"badges"},
 "transform":[{"filter":"datum.t != '168'"}],
 "mark":{"type":"text","fontSize":21,"align":"center","baseline":"middle"},
 "encoding":{"x":{"datum":1313,"type":"quantitative","scale":{"domain":[-93,1289],"nice":false,"zero":false,"padding":0}},
  "y":{"field":"p","type":"quantitative","scale":{"domain":[164.98,200.255],"nice":false,"zero":false,"padding":0}},
  "text":{"field":"t"},
  "color":{"condition":{"test":"datum.k == 'last'","value":"#ffffff"},"value":"#111111"}}},
{"data":{"name":"badges"},
 "transform":[{"filter":"datum.t == '168'"}],
 "mark":{"type":"text","fontSize":21,"align":"center","baseline":"middle","color":"#111111"},
 "encoding":{"x":{"datum":1305,"type":"quantitative","scale":{"domain":[-93,1289],"nice":false,"zero":false,"padding":0}},
  "y":{"field":"p","type":"quantitative","scale":{"domain":[164.98,200.255],"nice":false,"zero":false,"padding":0}},
  "text":{"field":"t"}}}
]
},
{
"width":2750,"height":39,
"view":{"fill":"#070707","stroke":"#555555","strokeWidth":2},
"data":{"values":[{}]},
"mark":{"type":"text","text":""},
"encoding":{}
},
{
"width":2750,"height":120,
"view":{"fill":"#1c1c1c","stroke":"#555555","strokeWidth":2},
"layer":[
{"data":{"name":"vol"},
 "mark":{"type":"bar","color":"#0e6192","size":9,"clip":true},
 "encoding":{"x":{"field":"m","type":"quantitative","scale":{"domain":[-93,1289],"nice":false,"zero":false,"padding":0},
   "axis":{"orient":"bottom","values":[-60,0,60,120,180,240,300,360,420,480,540,600,660,720,780,840,900,961,1020,1079,1138,1196,1255],"grid":true,"gridColor":"#8a8a8a","gridOpacity":0.4,"gridDash":[3,9],"gridWidth":1.5,"ticks":false,"domain":false,"labelColor":"#a8a8a8","labelFontSize":21,"labelAlign":"left","labelBaseline":"top","labelPadding":6,"labelOffset":2,"labelOverlap":false,"labelBound":false,"labelFlush":false,"labelExpr":"datum.value < -30 ? '19' : datum.value == 0 ? 'Mon' : datum.value == 60 ? '' : datum.value < 950 ? format(datum.value/60+4,'d') : ['Tue','5','6','7','8','9'][round((datum.value-961)/58.8)]","title":null}},
  "y":{"field":"v","type":"quantitative","scale":{"domain":[0,6.12],"nice":false,"zero":false,"padding":0},
   "axis":{"orient":"right","values":[2.5,5],"grid":true,"gridColor":"#8a8a8a","gridOpacity":0.4,"gridDash":[3,9],"gridWidth":1.5,"ticks":false,"domain":false,"labelColor":"#a8a8a8","labelFontSize":21,"labelAlign":"left","labelBaseline":"middle","labelPadding":7,"labelExpr":"datum.value == 5 ? '5' : '2.5'","title":null}}}},
{"data":{"values":[{"m":719,"v":6.12}]},
 "mark":{"type":"bar","color":"#0e6192","size":2.5,"clip":true},
 "encoding":{"x":{"field":"m","type":"quantitative","scale":{"domain":[-93,1289],"nice":false,"zero":false,"padding":0}},
  "y":{"field":"v","type":"quantitative","scale":{"domain":[0,6.12],"nice":false,"zero":false,"padding":0}}}},
{"data":{"values":[{"m":40}]},
 "mark":{"type":"rule","color":"#9c9c9c","strokeWidth":1.5,"clip":true},
 "encoding":{"x":{"field":"m","type":"quantitative","scale":{"domain":[-93,1289],"nice":false,"zero":false,"padding":0}}}},
{"data":{"values":[{"m":55,"v":-0.82,"t":"4:40"}]},
 "mark":{"type":"point","filled":true,"opacity":1,"color":"#a8a8a8","size":3249,"shape":"M-0.8,-0.526 L0.8,-0.526 Q1,-0.526 1,-0.33 L1,0.33 Q1,0.526 0.8,0.526 L-0.8,0.526 Q-1,0.526 -1,0.33 L-1,-0.33 Q-1,-0.526 -0.8,-0.526 Z"},
 "encoding":{"x":{"field":"m","type":"quantitative","scale":{"domain":[-93,1289],"nice":false,"zero":false,"padding":0}},
  "y":{"field":"v","type":"quantitative","scale":{"domain":[0,6.12],"nice":false,"zero":false,"padding":0}}}},
{"data":{"values":[{"m":55,"v":-0.82,"t":"4:40"}]},
 "mark":{"type":"text","fontSize":21,"color":"#111111","align":"center","baseline":"middle"},
 "encoding":{"x":{"field":"m","type":"quantitative","scale":{"domain":[-93,1289],"nice":false,"zero":false,"padding":0}},
  "y":{"field":"v","type":"quantitative","scale":{"domain":[0,6.12],"nice":false,"zero":false,"padding":0}},
  "text":{"field":"t"}}}
]
}
]
}
